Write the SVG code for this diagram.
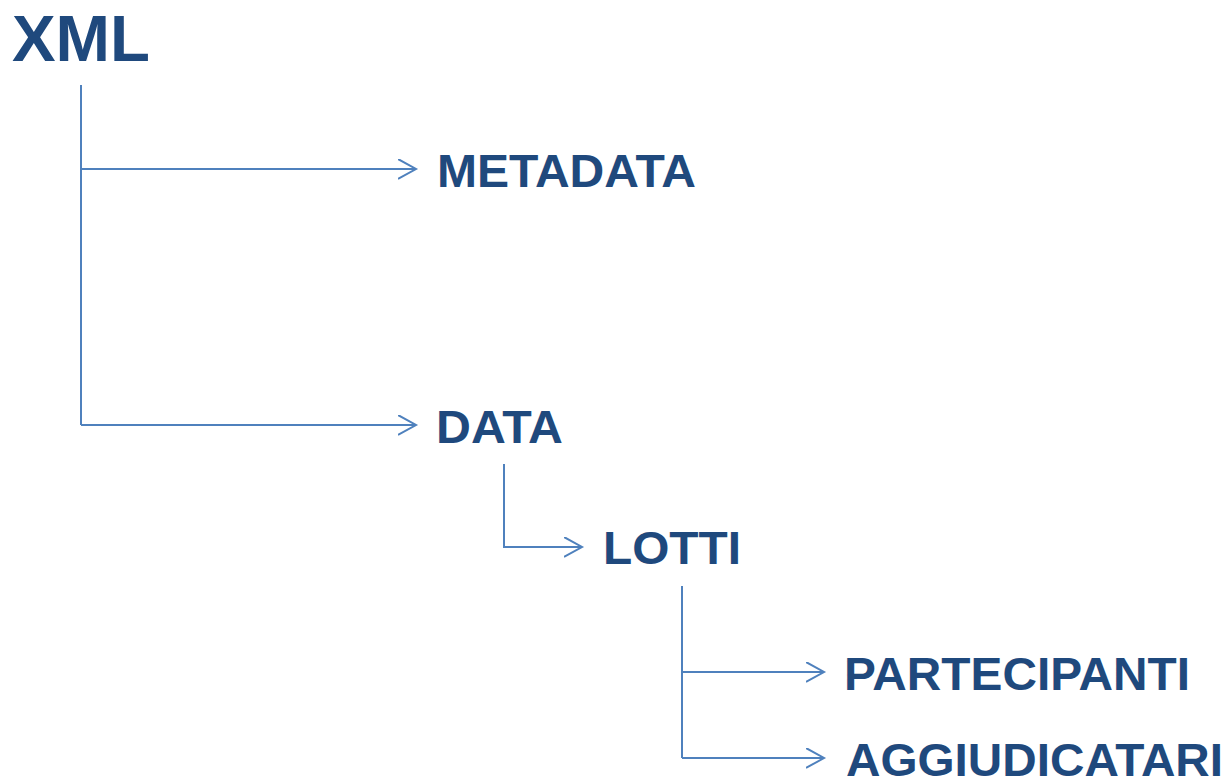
<svg xmlns="http://www.w3.org/2000/svg" width="1228" height="780" viewBox="0 0 1228 780">
  <style>
    .lbl { font-family: "Liberation Sans", Arial, sans-serif; font-weight: bold; fill: #1F497D; }
    .sub { font-size: 47px; }
    .conn { fill: none; stroke: #4F81BD; stroke-width: 2; }
  </style>
  <defs>
    <marker id="arrow" markerUnits="userSpaceOnUse" markerWidth="22" markerHeight="24" refX="18" refY="10" orient="auto">
      <path d="M0,0 L18,10 L0,20" fill="none" stroke="#4F81BD" stroke-width="2"/>
    </marker>
  </defs>
  <rect width="1228" height="780" fill="#FFFFFF"/>
  <g id="connectors">
    <path class="conn" d="M81,85 V425"/>
    <path class="conn" d="M81,169 H416" marker-end="url(#arrow)"/>
    <path class="conn" d="M81,425 H416" marker-end="url(#arrow)"/>
    <path class="conn" d="M504,464 V547 H582" marker-end="url(#arrow)"/>
    <path class="conn" d="M682,586 V758"/>
    <path class="conn" d="M682,672 H824" marker-end="url(#arrow)"/>
    <path class="conn" d="M682,758 H824" marker-end="url(#arrow)"/>
  </g>
  <g id="node-xml"><text class="lbl" x="12" y="61" font-size="64" textLength="138" lengthAdjust="spacingAndGlyphs">XML</text></g>
  <g id="node-metadata"><text class="lbl sub" x="437" y="187" textLength="259" lengthAdjust="spacingAndGlyphs">METADATA</text></g>
  <g id="node-data"><text class="lbl sub" x="436" y="443" textLength="127" lengthAdjust="spacingAndGlyphs">DATA</text></g>
  <g id="node-lotti"><text class="lbl sub" x="603" y="564" textLength="138" lengthAdjust="spacingAndGlyphs">LOTTI</text></g>
  <g id="node-partecipanti"><text class="lbl sub" x="844" y="690" textLength="346" lengthAdjust="spacingAndGlyphs">PARTECIPANTI</text></g>
  <g id="node-aggiudicatari"><text class="lbl sub" x="846" y="776" textLength="377" lengthAdjust="spacingAndGlyphs">AGGIUDICATARI</text></g>
</svg>
